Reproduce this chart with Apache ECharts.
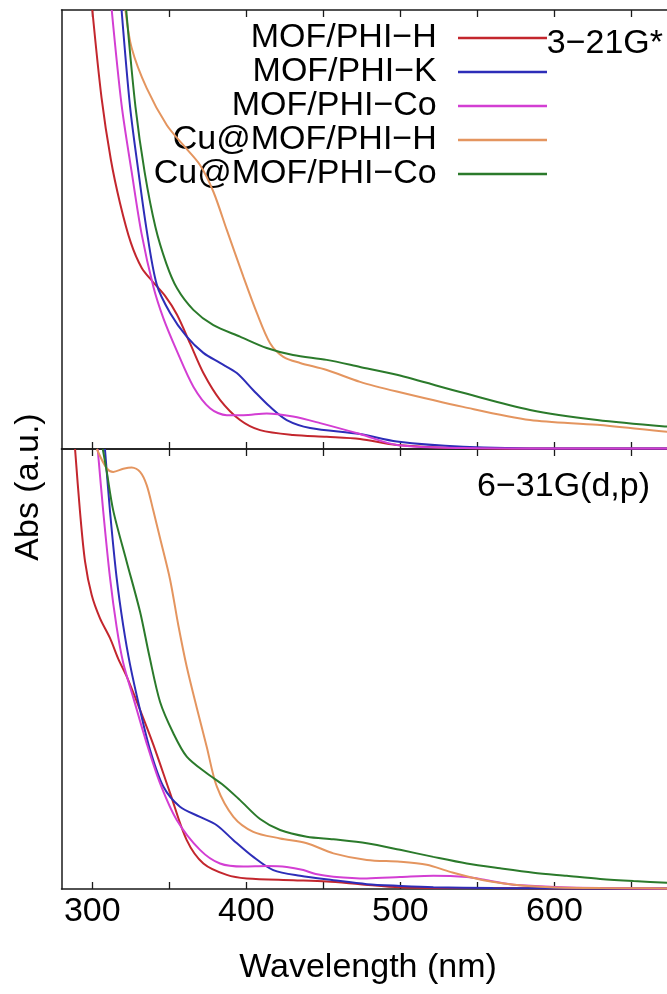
<!DOCTYPE html>
<html>
<head>
<meta charset="utf-8">
<script src="https://cdn.jsdelivr.net/npm/echarts@6/dist/echarts.min.js"></script>
<style>
html,body{margin:0;padding:0;background:#fff;}
#chart{width:667px;height:994px;}
</style>
</head>
<body>
<div id="chart"></div>
<script>
// ---- data (wavelength nm, absorbance a.u. scaled 0-100 per panel) ----
const seriesNames = ['MOF/PHI\u2212H', 'MOF/PHI\u2212K', 'MOF/PHI\u2212Co', 'Cu@MOF/PHI\u2212H', 'Cu@MOF/PHI\u2212Co'];
const seriesColors = ['#c3262d', '#2d2db8', '#d33ed3', '#e4955f', '#2b7a2b'];
const xTickValues = [300, 350, 400, 450, 500, 550, 600, 650, 700];
const xLabelValues = [300, 400, 500, 600];
const panelLabels = ['3\u221221G*', '6\u221231G(d,p)'];

// top panel: 3-21G*
const top_MOF_H = [[300,100],[306,80],[312,66],[318,56],[325,47],[332,41.3],[339,38.2],[347,35],[355,30.6],[363.4,24.1],[372.1,17.3],[382.9,11.2],[395.9,6.6],[408.9,4.3],[430.3,3.2],[452.2,2.8],[473.8,2.3],[497.7,0.9],[540.7,0.2],[600,0.1],[700,0.1]];
const top_MOF_K = [[319,100],[324.5,78],[330,63],[335,50.5],[341.8,37.5],[350.5,31.0],[361.3,25.6],[372.1,21.9],[382.9,19.6],[393.8,17.3],[404.5,13.4],[415.4,9.6],[426.2,6.6],[441.4,4.8],[473.8,3.4],[497.7,1.7],[540.7,0.5],[600,0.1],[700,0.1]];
const top_MOF_Co = [[312.6,100],[319,78.4],[325.6,63],[332,49],[339.6,37.0],[346.1,29.8],[354.8,22.4],[365.6,14.2],[376.4,9.3],[387.3,7.7],[398.1,7.7],[413.2,8.1],[430.3,7.4],[447.9,5.9],[473.8,3.4],[497.7,0.9],[540.7,0.2],[600,0.1],[700,0.1]];
const top_Cu_H = [[321.5,100],[325.6,91.3],[335.3,82.2],[348.3,73.8],[359.1,69.2],[369.9,64.7],[378.6,58.6],[387.3,49.9],[398.1,39.2],[406.8,31.0],[415.4,24.1],[424.0,21.0],[434.9,19.6],[452.2,18.0],[473.8,15.3],[497.7,13.1],[540.7,9.6],[584.2,6.6],[627.7,5.5],[673.2,3.9],[700,3.2]];
const top_Cu_Co = [[322,100],[328,78],[334,63],[341,50.5],[348,42.3],[355,36.6],[365.6,31.7],[378.6,28.2],[395.9,25.6],[413.2,23.0],[430.3,21.4],[452.2,20.3],[473.8,18.7],[497.7,16.9],[540.7,12.8],[584.2,8.9],[627.7,6.6],[673.2,5.1],[700,4.5]];

// bottom panel: 6-31G(d,p)
const bot_MOF_H = [[288.8,100],[292.0,85.8],[295.3,74.4],[299.6,66.8],[305.0,61.5],[311.5,57.0],[317,52.2],[322.3,48.3],[331.0,40.7],[339.6,32.8],[350.5,21.8],[361.3,11.1],[372.1,5.8],[387.3,3.2],[400.3,2.4],[430.5,2.0],[452.2,1.7],[473.8,1.1],[499.8,0.4],[550,0.2],[700,0.1]];
const bot_MOF_K = [[308.2,100],[311.5,85.8],[315.8,70.7],[320.1,59.8],[324.5,51],[331.0,40.7],[337.5,31.6],[346.1,23.3],[356.9,18.7],[369.9,16.4],[380.8,14.5],[391.6,11.1],[404.5,7.3],[417.5,4.3],[434.9,3.0],[456.5,2.0],[478.2,1.1],[499.8,0.7],[521.4,0.4],[560,0.2],[700,0.1]];
const bot_MOF_Co = [[303.5,100],[307.1,85.8],[311.5,70.7],[315.8,59.5],[320,51.5],[326.6,43.5],[335.3,33.1],[344.0,24.0],[354.8,15.7],[369.9,8.9],[382.9,5.8],[398.1,5.1],[413.2,5.2],[426.2,5.0],[437,4.3],[445,3.4],[456.5,2.8],[478.2,2.4],[499.8,2.7],[521.4,3.0],[543.1,2.7],[556.1,2.0],[575.6,0.9],[629.7,0.2],[700,0.1]];
const bot_Cu_H = [[302.9,100],[309.4,95.6],[313.6,94.8],[320.1,95.5],[325.6,95.8],[331.0,94.8],[335.3,91.8],[339.6,86],[344.0,79.7],[350.5,70.3],[355.8,60],[361.3,50.5],[367.8,41.2],[374.3,32.3],[380.8,23.3],[391.6,16.4],[404.5,13.0],[421.9,11.5],[439.2,10.4],[456.5,8.1],[478.2,6.6],[499.8,6.2],[517.1,5.5],[532.3,3.9],[553.9,2.0],[575.6,0.9],[597.2,0.4],[629.7,0.2],[700,0.1]];
const bot_Cu_Co = [[306.8,100],[309.4,94.8],[313.6,86],[322.3,74.4],[331.0,63.0],[337,53],[344,42.5],[352.6,35.4],[361.3,30.1],[374.3,26.3],[385.1,23.6],[395.9,20.2],[408.9,15.9],[421.9,13.4],[439.2,11.9],[456.5,11.3],[478.2,10.4],[499.8,8.9],[521.4,7.3],[543.1,5.8],[564.7,4.7],[586.4,3.7],[608.0,3.0],[629.7,2.3],[651.3,1.8],[673.0,1.4],[700,1.0]];

const topData = [top_MOF_H, top_MOF_K, top_MOF_Co, top_Cu_H, top_Cu_Co];
const botData = [bot_MOF_H, bot_MOF_K, bot_MOF_Co, bot_Cu_H, bot_Cu_Co];

// ---- chart ----
const FONT = 'Liberation Sans, Arial, Helvetica, sans-serif';
const axisColor = '#1a1a1a';
const chart = echarts.init(document.getElementById('chart'), null, {renderer: 'canvas'});

function xAxisDef(gridIndex, position, showLabels) {
  return {
    type: 'value', gridIndex: gridIndex, position: position, min: 280, max: 700,
    axisLine: {show: true, onZero: false, lineStyle: {color: axisColor, width: 1.5}},
    axisTick: {show: true, inside: true, length: 7, customValues: xTickValues, lineStyle: {color: axisColor, width: 1.3}},
    axisLabel: showLabels ? {show: true, customValues: xLabelValues, fontSize: 34, fontFamily: FONT, color: '#000', margin: 6} : {show: false},
    splitLine: {show: false}
  };
}
function yAxisDef(gridIndex) {
  return {
    type: 'value', gridIndex: gridIndex, min: 0, max: 100,
    axisLine: {show: true, onZero: false, lineStyle: {color: axisColor, width: 1.5}},
    axisTick: {show: false}, axisLabel: {show: false}, splitLine: {show: false}
  };
}

const series = [];
seriesNames.forEach(function (name, i) {
  series.push({
    name: name, type: 'line', xAxisIndex: 0, yAxisIndex: 0, data: topData[i],
    smooth: 0.3, showSymbol: false, symbol: 'none', clip: true,
    lineStyle: {color: seriesColors[i], width: 2}, itemStyle: {color: seriesColors[i]}, z: 2 + i
  });
  series.push({
    name: name, type: 'line', xAxisIndex: 2, yAxisIndex: 1, data: botData[i],
    smooth: 0.3, showSymbol: false, symbol: 'none', clip: true,
    lineStyle: {color: seriesColors[i], width: 2}, itemStyle: {color: seriesColors[i]}, z: 2 + i
  });
});

chart.setOption({
  animation: false,
  backgroundColor: '#ffffff',
  grid: [
    {left: 61.5, top: 10, width: 647, height: 439, outerBoundsMode: 'none', containLabel: false},
    {left: 61.5, top: 449, width: 647, height: 440, outerBoundsMode: 'none', containLabel: false}
  ],
  xAxis: [
    xAxisDef(0, 'bottom', false),
    xAxisDef(0, 'top', false),
    xAxisDef(1, 'bottom', true),
    xAxisDef(1, 'top', false)
  ],
  yAxis: [yAxisDef(0), yAxisDef(1)],
  legend: {
    show: true, orient: 'vertical', align: 'right', right: 115, top: 16,
    itemWidth: 89, itemHeight: 2.5, itemGap: 0, icon: 'rect',
    data: seriesNames,
    formatter: function (n) { return n + ' \u2009'; },
    textStyle: {fontSize: 34, fontFamily: FONT, color: '#000', lineHeight: 34},
    selectedMode: false
  },
  graphic: [
    {type: 'text', x: 29, y: 487, rotation: Math.PI / 2,
     style: {text: 'Abs (a.u.)', fontSize: 34, fontFamily: FONT, fill: '#000', align: 'center', verticalAlign: 'middle', textAlign: 'center', textVerticalAlign: 'middle'}},
    {type: 'text', x: 368, y: 968,
     style: {text: 'Wavelength (nm)', fontSize: 34, fontFamily: FONT, fill: '#000', align: 'center', verticalAlign: 'middle', textAlign: 'center', textVerticalAlign: 'middle'}},
    {type: 'text', x: 663, y: 44, z: 100,
     style: {text: panelLabels[0], fontSize: 34, fontFamily: FONT, fill: '#000', align: 'right', verticalAlign: 'middle', textAlign: 'right', textVerticalAlign: 'middle'}},
    {type: 'text', x: 650, y: 487,
     style: {text: panelLabels[1], fontSize: 34, fontFamily: FONT, fill: '#000', align: 'right', verticalAlign: 'middle', textAlign: 'right', textVerticalAlign: 'middle'}}
  ],
  series: series
});
</script>
</body>
</html>
